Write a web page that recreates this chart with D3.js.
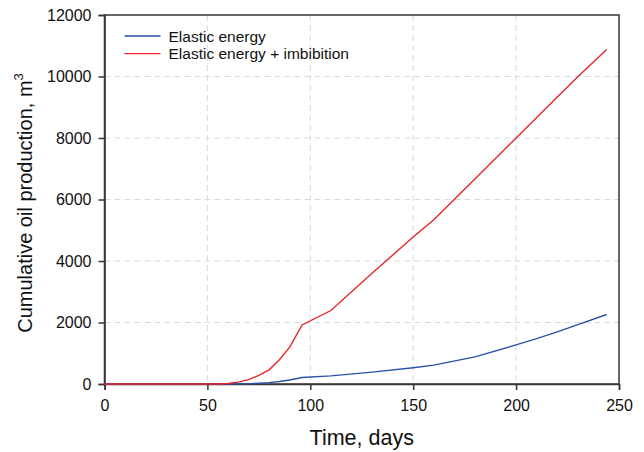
<!DOCTYPE html>
<html>
<head>
<meta charset="utf-8">
<script src="https://cdn.jsdelivr.net/npm/d3@7"></script>
<style>
    body { margin: 0; background: #fff; }
    svg { display: block; font-family: "Liberation Sans", Arial, sans-serif; }
</style>
</head>
<body>
<svg id="chart"></svg>
<script>
// data
const days = [0, 55, 60, 65, 70, 75, 80, 85, 90, 96, 110, 130, 150, 160, 180, 200, 210, 220, 230, 244];
const elastic = [0, 0, 0, 3, 10, 25, 45, 80, 130, 210, 265, 385, 530, 615, 880, 1270, 1475, 1695, 1930, 2260];
const imbibition = [0, 0, 15, 60, 140, 280, 460, 790, 1200, 1920, 2390, 3600, 4780, 5340, 6670, 8000, 8665, 9330, 9990, 10880];
const xTicks = [0, 50, 100, 150, 200, 250];
const yTicks = [0, 2000, 4000, 6000, 8000, 10000, 12000];
const seriesNames = ["Elastic energy", "Elastic energy + imbibition"];
const colors = ["#2a52a8", "#e8262a"];

const width = 644, height = 452;
const margin = { top: 15, right: 25, bottom: 68, left: 104.5 };
const w = 619 - margin.left;
const h = 384 - margin.top;

const svg = d3.select("#chart").attr("width", width).attr("height", height);
const g = svg.append("g").attr("transform", `translate(${margin.left},${margin.top})`);

const x = d3.scaleLinear().domain([0, 250]).range([0, w]);
const y = d3.scaleLinear().domain([0, 12000]).range([h, 0]);

// grid
g.append("g").selectAll("line").data(xTicks.slice(1, -1)).join("line")
    .attr("x1", d => x(d)).attr("x2", d => x(d))
    .attr("y1", 0).attr("y2", h)
    .attr("stroke", "#d9d9d9").attr("stroke-dasharray", "6,4");
g.append("g").selectAll("line").data(yTicks.slice(1, -1)).join("line")
    .attr("y1", d => y(d)).attr("y2", d => y(d))
    .attr("x1", 0).attr("x2", w)
    .attr("stroke", "#d9d9d9").attr("stroke-dasharray", "6,4");

// frame
g.append("rect").attr("width", w).attr("height", h)
    .attr("fill", "none").attr("stroke", "#3a3330").attr("stroke-width", 1.5);

// axes
const xAxis = g.append("g").attr("transform", `translate(0,${h})`)
    .call(d3.axisBottom(x).tickValues(xTicks).tickSize(6).tickPadding(10));
const yAxis = g.append("g")
    .call(d3.axisLeft(y).tickValues(yTicks).tickSize(6).tickPadding(7).tickFormat(d3.format("d")));
[xAxis, yAxis].forEach(a => {
    a.select(".domain").attr("stroke", "#3a3330").attr("stroke-width", 1.5);
    a.selectAll(".tick line").attr("stroke", "#3a3330").attr("stroke-width", 1.5);
    a.selectAll("text").attr("font-size", 16).attr("fill", "#111")
        .attr("font-family", "'Liberation Sans', Arial, sans-serif");
});

// lines
const line = d3.line().x((d, i) => x(days[i])).y(d => y(d));
[elastic, imbibition].forEach((s, i) => {
    g.append("path").datum(s)
        .attr("d", line)
        .attr("fill", "none")
        .attr("stroke", colors[i])
        .attr("stroke-width", 1.4);
});

// legend
const legend = g.append("g").attr("transform", "translate(20,21)");
seriesNames.forEach((name, i) => {
    const row = legend.append("g").attr("transform", `translate(0,${i * 17.6})`);
    row.append("line").attr("x1", 0).attr("x2", 36).attr("y1", 0).attr("y2", 0)
        .attr("stroke", colors[i]).attr("stroke-width", 1.4);
    row.append("text").attr("x", 44).attr("y", 5.5)
        .attr("font-size", 15.5).attr("fill", "#111").text(name);
});

// axis titles
svg.append("text")
    .attr("x", margin.left + w / 2).attr("y", 445)
    .attr("text-anchor", "middle").attr("font-size", 21.5).attr("fill", "#111")
    .text("Time, days");

const yt = svg.append("text")
    .attr("transform", `translate(31.5,203) rotate(-90)`)
    .attr("text-anchor", "middle").attr("font-size", 20).attr("fill", "#111");
yt.append("tspan").text("Cumulative oil production, m");
yt.append("tspan").attr("dy", -9).attr("font-size", 13).text("3");
</script>
</body>
</html>
